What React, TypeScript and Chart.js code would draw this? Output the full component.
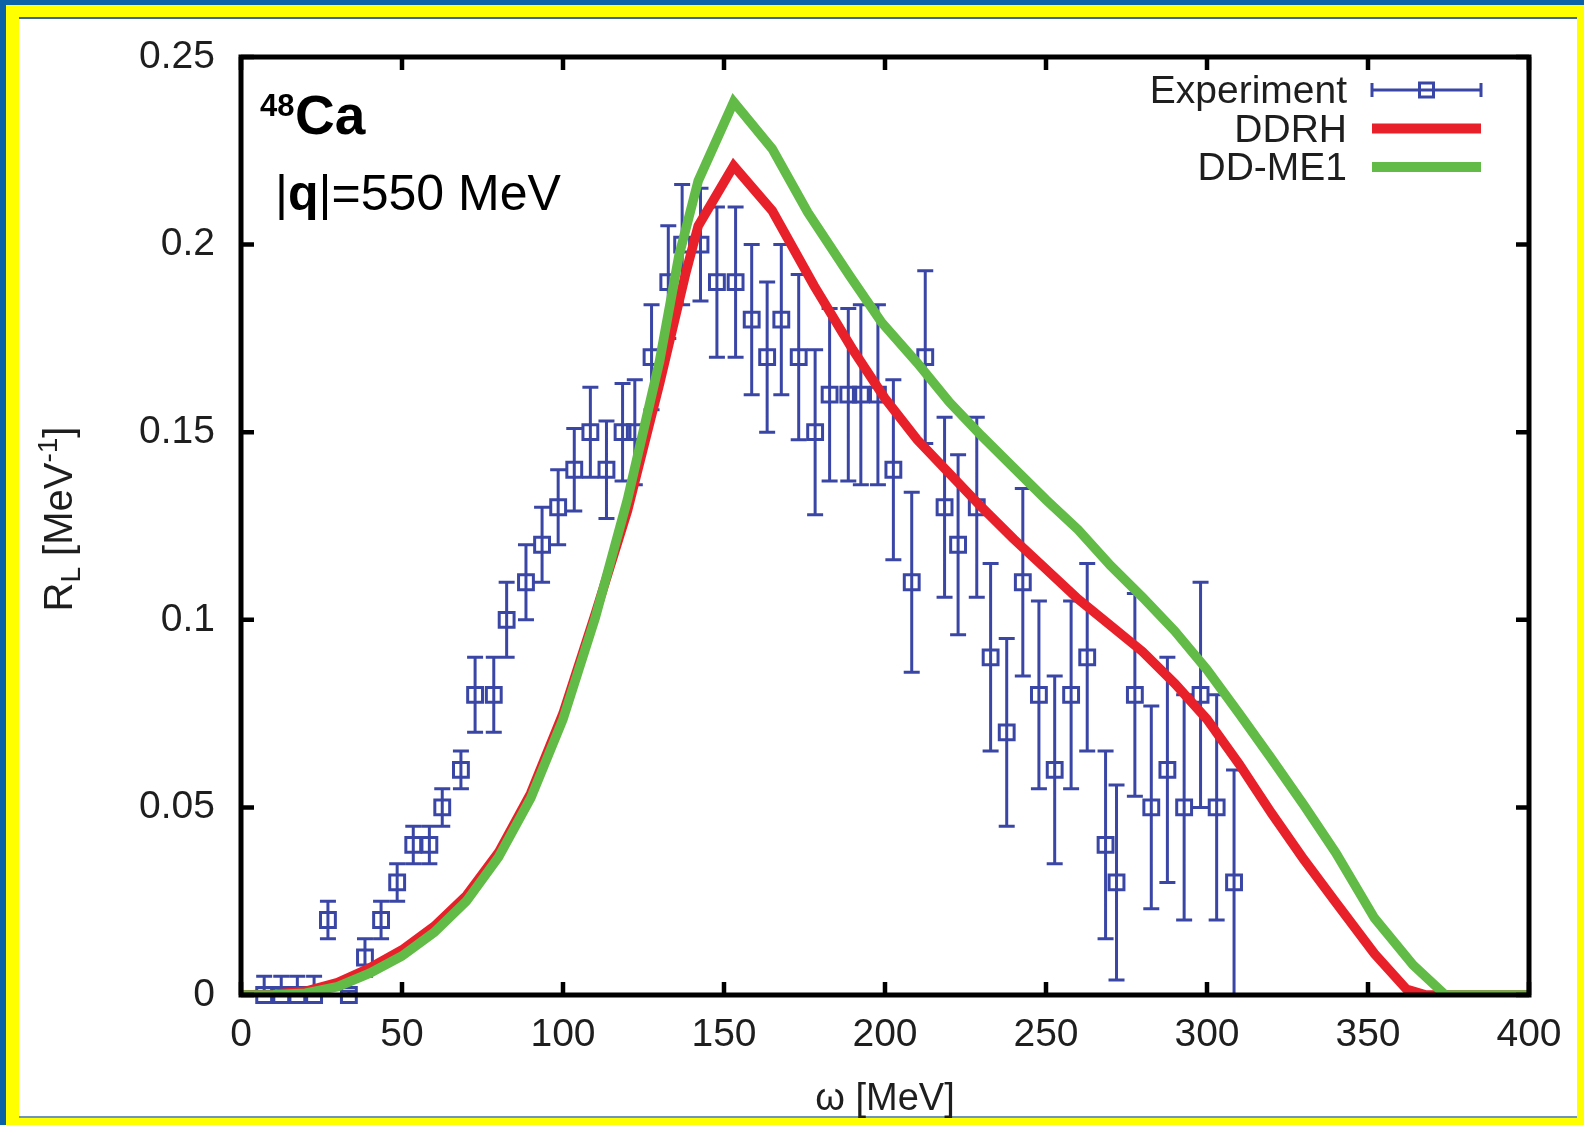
import React, { useEffect, useRef } from "react";
import { Chart, registerables } from "chart.js";

Chart.register(...registerables);

const FONT = '"Liberation Sans", Arial, Helvetica, sans-serif';

// ---- Experimental data (omega [MeV], R_L [MeV^-1], symmetric error) ----
const expOmega = [
  7.2, 12.5, 17.5, 22.7, 27, 33.5, 38.5, 43.5, 48.5, 53.5,
  58.5, 62.5, 68.3, 72.7, 78.5, 82.5, 88.5, 93.5, 98.5, 103.5,
  108.5, 113.5, 118.5, 122.3, 127.5, 132.7, 137, 142.7, 147.8, 153.6,
  158.6, 163.4, 167.8, 173.2, 178.3, 182.8, 188.6, 192.5, 197.8, 202.6,
  208.3, 212.5, 218.5, 222.7, 228.5, 232.8, 237.8, 242.8, 247.8, 252.7,
  257.8, 262.8, 268.5, 271.9, 277.6, 282.7, 287.7, 292.9, 298, 303,
  308.4,
];
const expRL = [
  0, 0, 0, 0, 0.02, 0, 0.01, 0.02, 0.03, 0.04,
  0.04, 0.05, 0.06, 0.08, 0.08, 0.1, 0.11, 0.12, 0.13, 0.14,
  0.15, 0.14, 0.15, 0.15, 0.17, 0.19, 0.2, 0.2, 0.19, 0.19,
  0.18, 0.17, 0.18, 0.17, 0.15, 0.16, 0.16, 0.16, 0.16, 0.14,
  0.11, 0.17, 0.13, 0.12, 0.13, 0.09, 0.07, 0.11, 0.08, 0.06,
  0.08, 0.09, 0.04, 0.03, 0.08, 0.05, 0.06, 0.05, 0.08, 0.05,
  0.03,
];
const expErr = [
  0.005, 0.005, 0.005, 0.005, 0.005, 0.001, 0.005, 0.005, 0.005, 0.005,
  0.005, 0.005, 0.005, 0.01, 0.01, 0.01, 0.01, 0.01, 0.01, 0.011,
  0.012, 0.013, 0.013, 0.014, 0.014, 0.015, 0.016, 0.015, 0.02, 0.02,
  0.02, 0.02, 0.02, 0.022, 0.022, 0.023, 0.023, 0.024, 0.024, 0.024,
  0.024, 0.023, 0.024, 0.024, 0.024, 0.025, 0.025, 0.025, 0.025, 0.025,
  0.025, 0.025, 0.025, 0.026, 0.027, 0.027, 0.03, 0.03, 0.03, 0.03,
  0.03,
];

// ---- DDRH (red) ----
const ddrhOmega = [
  0, 10, 20, 30, 40, 50, 60, 70, 80, 90,
  100, 110, 120, 130, 138, 142, 153, 165, 178, 190,
  200, 210, 220, 230, 240, 250, 260, 270, 280, 290,
  300, 310, 320, 330, 340, 352, 362, 368, 400,
];
const ddrhRL = [
  0, 0.0002, 0.001, 0.0033, 0.0072, 0.012, 0.0183, 0.0265, 0.038, 0.0538,
  0.075, 0.1015, 0.129, 0.163, 0.192, 0.205, 0.221, 0.209, 0.189, 0.172,
  0.159, 0.148, 0.139, 0.13, 0.1215, 0.1135, 0.1055, 0.0985, 0.0915, 0.083,
  0.0735, 0.0615, 0.0485, 0.0362, 0.0247, 0.011, 0.0015, 0, 0,
];

// ---- DD-ME1 (green) ----
const ddme1Omega = [
  0, 10, 20, 30, 40, 50, 60, 70, 80, 90,
  100, 110, 120, 130, 136, 142, 153, 165, 176, 189,
  199, 210, 220, 230, 240, 250, 260, 270, 280, 290,
  300, 310, 320, 330, 340, 352, 364, 374, 400,
];
const ddme1RL = [
  0, 0.0001, 0.0005, 0.0022, 0.0058, 0.0104, 0.0167, 0.025, 0.0368, 0.0525,
  0.0735, 0.1005, 0.132, 0.169, 0.197, 0.217, 0.238, 0.2255, 0.2086, 0.1917,
  0.1792, 0.1685, 0.158, 0.149, 0.1405, 0.132, 0.124, 0.1145, 0.106, 0.097,
  0.0867, 0.075, 0.063, 0.0507, 0.0379, 0.0205, 0.008, 0, 0,
];

// ---- Ticks ----
const xTickValues = [0, 50, 100, 150, 200, 250, 300, 350, 400];
const xTickLabels = ["0", "50", "100", "150", "200", "250", "300", "350", "400"];
const yTickValues = [0, 0.05, 0.1, 0.15, 0.2, 0.25];
const yTickLabels = ["0", "0.05", "0.1", "0.15", "0.2", "0.25"];

const seriesLabels = ["Experiment", "DDRH", "DD-ME1"];

const BLUE = "#3a46a6";
const RED = "#e8202a";
const GREEN = "#62bb46";
const TEXT = "#1e1e1e";

const errorBarPlugin = {
  id: "errorBars",
  beforeDatasetsDraw(chart: any) {
    const { ctx, scales } = chart;
    const xs = scales.x;
    const ys = scales.y;
    ctx.save();
    ctx.strokeStyle = BLUE;
    ctx.lineWidth = 3;
    const cap = 8;
    ctx.beginPath();
    for (let i = 0; i < expOmega.length; i++) {
      const px = xs.getPixelForValue(expOmega[i]);
      const lo = ys.getPixelForValue(Math.max(0, expRL[i] - expErr[i]));
      const hi = ys.getPixelForValue(expRL[i] + expErr[i]);
      ctx.moveTo(px, lo);
      ctx.lineTo(px, hi);
      ctx.moveTo(px - cap, lo);
      ctx.lineTo(px + cap, lo);
      ctx.moveTo(px - cap, hi);
      ctx.lineTo(px + cap, hi);
    }
    ctx.stroke();
    ctx.restore();
  },
};

const framePlugin = {
  id: "frame",
  afterDatasetsDraw(chart: any) {
    const { ctx, chartArea: a, scales } = chart;
    const xs = scales.x;
    const ys = scales.y;
    ctx.save();
    ctx.strokeStyle = "#000";
    ctx.lineWidth = 5;
    ctx.strokeRect(a.left, a.top, a.right - a.left, a.bottom - a.top);
    ctx.lineWidth = 4.5;
    const L = 13;
    ctx.beginPath();
    xTickValues.forEach((v) => {
      const px = xs.getPixelForValue(v);
      ctx.moveTo(px, a.bottom);
      ctx.lineTo(px, a.bottom - L);
      ctx.moveTo(px, a.top);
      ctx.lineTo(px, a.top + L);
    });
    yTickValues.forEach((v) => {
      const py = ys.getPixelForValue(v);
      ctx.moveTo(a.left, py);
      ctx.lineTo(a.left + L, py);
      ctx.moveTo(a.right, py);
      ctx.lineTo(a.right - L, py);
    });
    ctx.stroke();
    ctx.restore();
  },
};

const textPlugin = {
  id: "texts",
  afterDraw(chart: any) {
    const ctx = chart.ctx;
    const ds = chart.data.datasets;
    ctx.save();
    ctx.fillStyle = TEXT;
    ctx.textBaseline = "alphabetic";

    // --- legend ---
    const textRight = 1347;
    const x1 = 1372;
    const x2 = 1481;
    ctx.font = `39px ${FONT}`;
    ctx.textAlign = "right";
    for (let i = 0; i < ds.length; i++) {
      const base = 103 + 38.5 * i;
      const ly = base - 13;
      ctx.fillStyle = TEXT;
      ctx.fillText(ds[i].label, textRight, base);
      if (i === 0) {
        ctx.strokeStyle = BLUE;
        ctx.lineWidth = 3;
        ctx.beginPath();
        ctx.moveTo(x1, ly);
        ctx.lineTo(x2, ly);
        ctx.moveTo(x1, ly - 7);
        ctx.lineTo(x1, ly + 7);
        ctx.moveTo(x2, ly - 7);
        ctx.lineTo(x2, ly + 7);
        ctx.stroke();
        const cx = (x1 + x2) / 2;
        ctx.strokeRect(cx - 7, ly - 7, 14, 14);
      } else {
        ctx.strokeStyle = ds[i].borderColor;
        ctx.lineWidth = 10;
        ctx.lineCap = "butt";
        ctx.beginPath();
        ctx.moveTo(x1, ly);
        ctx.lineTo(x2, ly);
        ctx.stroke();
      }
    }

    // --- 48Ca annotation ---
    ctx.textAlign = "left";
    ctx.fillStyle = "#000";
    ctx.font = `bold 31px ${FONT}`;
    ctx.fillText("48", 260, 116);
    ctx.font = `bold 55px ${FONT}`;
    ctx.fillText("Ca", 295, 134);

    // --- |q|=550 MeV ---
    let x = 275;
    const qBase = 210;
    const parts: [string, boolean][] = [
      ["|", false],
      ["q", true],
      ["|=550 MeV", false],
    ];
    parts.forEach(([t, b]) => {
      ctx.font = `${b ? "bold " : ""}50px ${FONT}`;
      ctx.fillText(t, x, qBase);
      x += ctx.measureText(t).width;
    });

    // --- y axis title: R_L [MeV^-1] ---
    ctx.save();
    ctx.translate(72, 519);
    ctx.rotate(-Math.PI / 2);
    const segs: [string, number, number][] = [
      ["R", 40, 0],
      ["L", 28, 8],
      [" [MeV", 40, 0],
      ["-1", 28, -15],
      ["]", 40, 0],
    ];
    let total = 0;
    segs.forEach(([t, s]) => {
      ctx.font = `${s}px ${FONT}`;
      total += ctx.measureText(t).width;
    });
    let tx = -total / 2;
    ctx.fillStyle = TEXT;
    segs.forEach(([t, s, dy]) => {
      ctx.font = `${s}px ${FONT}`;
      ctx.fillText(t, tx, dy);
      tx += ctx.measureText(t).width;
    });
    ctx.restore();

    ctx.restore();
  },
};

export default function App() {
  const ref = useRef<HTMLCanvasElement | null>(null);

  useEffect(() => {
    if (!ref.current) return;
    const expData = expOmega.map((x, i) => ({ x, y: expRL[i] }));
    const ddrhData = ddrhOmega.map((x, i) => ({ x, y: ddrhRL[i] }));
    const ddme1Data = ddme1Omega.map((x, i) => ({ x, y: ddme1RL[i] }));

    const chart = new Chart(ref.current, {
      type: "line",
      data: {
        datasets: [
          {
            label: seriesLabels[0],
            data: expData,
            showLine: false,
            pointStyle: "rect",
            pointRadius: 10.5,
            pointBorderWidth: 3,
            borderColor: BLUE,
            pointBorderColor: BLUE,
            pointBackgroundColor: "rgba(0,0,0,0)",
            backgroundColor: "rgba(0,0,0,0)",
            order: 2,
            clip: false,
          } as any,
          {
            label: seriesLabels[1],
            data: ddrhData,
            borderColor: RED,
            borderWidth: 9.5,
            pointRadius: 0,
            tension: 0,
            fill: false,
            order: 1,
            clip: 0,
          } as any,
          {
            label: seriesLabels[2],
            data: ddme1Data,
            borderColor: GREEN,
            borderWidth: 9.5,
            pointRadius: 0,
            tension: 0,
            fill: false,
            order: 0,
            clip: 0,
          } as any,
        ],
      },
      options: {
        responsive: false,
        animation: false,
        devicePixelRatio: 1,
        layout: { padding: { left: 0, top: 57, right: 55, bottom: 0 } },
        plugins: {
          legend: { display: false },
          tooltip: { enabled: false },
        },
        scales: {
          x: {
            type: "linear",
            min: 0,
            max: 400,
            afterBuildTicks: (s: any) => {
              s.ticks = xTickValues.map((v) => ({ value: v }));
            },
            afterFit: (s: any) => {
              s.height = 130;
            },
            grid: { display: false },
            border: { display: false },
            ticks: {
              autoSkip: false,
              maxRotation: 0,
              minRotation: 0,
              padding: 9,
              color: TEXT,
              font: { family: FONT, size: 39 },
              callback: (_v: any, i: number) => xTickLabels[i],
            },
            title: {
              display: true,
              text: "ω [MeV]",
              color: TEXT,
              font: { family: FONT, size: 38 },
              padding: { top: 0, bottom: 3 },
            },
          },
          y: {
            type: "linear",
            min: 0,
            max: 0.25,
            afterBuildTicks: (s: any) => {
              s.ticks = yTickValues.map((v) => ({ value: v }));
            },
            afterFit: (s: any) => {
              s.width = 241;
            },
            grid: { display: false },
            border: { display: false },
            ticks: {
              autoSkip: false,
              padding: 18,
              color: TEXT,
              font: { family: FONT, size: 39 },
              callback: (_v: any, i: number) => yTickLabels[i],
            },
          },
        },
      } as any,
      plugins: [errorBarPlugin, framePlugin, textPlugin],
    });
    return () => chart.destroy();
  }, []);

  return (
    <div
      style={{
        position: "absolute",
        left: 0,
        top: 0,
        width: 1584,
        height: 1125,
        background: "#ffff00",
        overflow: "hidden",
      }}
    >
      <div style={{ position: "absolute", left: 0, top: 0, width: 1584, height: 5, background: "#0b62a7" }} />
      <div style={{ position: "absolute", left: 0, top: 0, width: 6, height: 1125, background: "#0b62a7" }} />
      <div
        style={{
          position: "absolute",
          left: 19,
          top: 17,
          width: 1558,
          height: 1101,
          background: "#ffffff",
          borderTop: "2px solid #3d5fa3",
          borderBottom: "2px solid #6f95b8",
          boxSizing: "border-box",
        }}
      />
      <canvas
        ref={ref}
        width={1584}
        height={1125}
        style={{ position: "absolute", left: 0, top: 0, width: 1584, height: 1125 }}
      />
    </div>
  );
}
